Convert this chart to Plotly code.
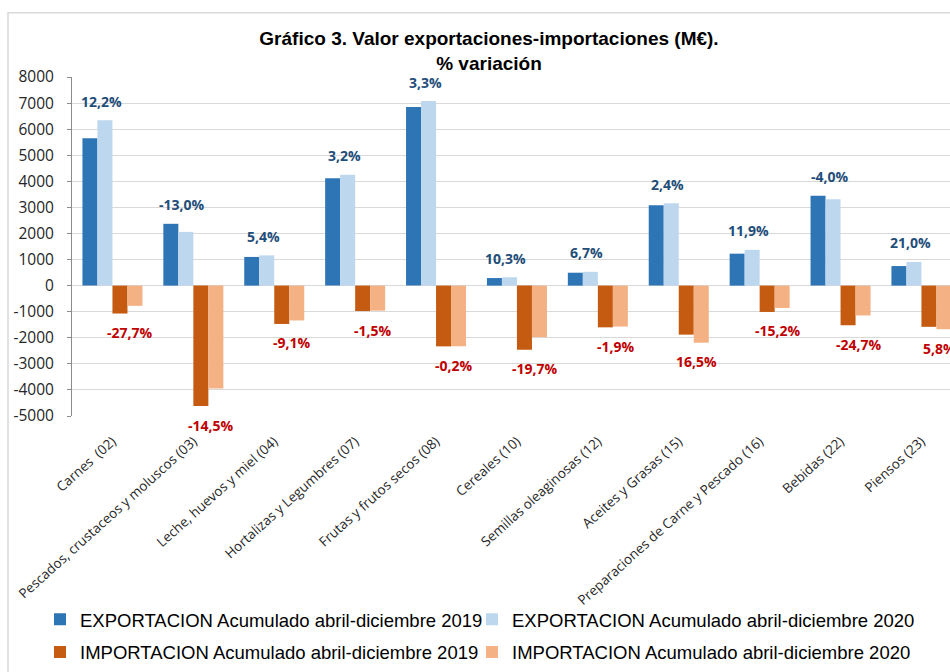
import plotly.graph_objects as go

categories = ["Carnes  (02)", "Pescados, crustaceos y moluscos (03)", "Leche, huevos y miel (04)",
              "Hortalizas y Legumbres (07)", "Frutas y frutos secos (08)", "Cereales (10)",
              "Semillas oleaginosas (12)", "Aceites y Grasas (15)",
              "Preparaciones de Carne y Pescado (16)", "Bebidas (22)", "Piensos (23)"]
export_2019 = [5650, 2370, 1100, 4120, 6850, 290, 495, 3080, 1225, 3450, 750]
export_2020 = [6340, 2060, 1160, 4250, 7075, 320, 528, 3154, 1371, 3312, 907]
import_2019 = [-1070, -4620, -1470, -975, -2330, -2460, -1600, -1880, -1010, -1520, -1580]
import_2020 = [-775, -3950, -1336, -960, -2325, -1975, -1570, -2190, -857, -1145, -1672]
export_pct = [12.2, -13.0, 5.4, 3.2, 3.3, 10.3, 6.7, 2.4, 11.9, -4.0, 21.0]
import_pct = [-27.7, -14.5, -9.1, -1.5, -0.2, -19.7, -1.9, 16.5, -15.2, -24.7, 5.8]
y_ticks = list(range(-5000, 8001, 1000))

names = ["EXPORTACION Acumulado abril-diciembre 2019", "EXPORTACION Acumulado abril-diciembre 2020",
         "IMPORTACION Acumulado abril-diciembre 2019", "IMPORTACION Acumulado abril-diciembre 2020"]
colors = ["#2E75B6", "#BDD7EE", "#C55A11", "#F4B183"]
series = [export_2019, export_2020, import_2019, import_2020]
legends = ["legend", "legend2", "legend3", "legend4"]

fig = go.Figure()
for n, c, s, lg in zip(names, colors, series, legends):
    fig.add_trace(go.Bar(x=categories, y=s, name=n, marker=dict(color=c, line=dict(width=0)),
                         legend=lg))

def fmt(v):
    return f"{v:.1f}".replace(".", ",") + "%"

ann = []
for i, cat in enumerate(categories):
    ann.append(dict(x=cat, y=max(export_2019[i], export_2020[i]), xref="x", yref="y",
                    text=fmt(export_pct[i]), showarrow=False, xshift=-11, yshift=19,
                    yanchor="middle",
                    font=dict(family="Open Sans", size=14, color="#1F4E79", weight="bold")))
    ann.append(dict(x=cat, y=min(import_2019[i], import_2020[i]), xref="x", yref="y",
                    text=fmt(import_pct[i]), showarrow=False, xshift=18, yshift=-19,
                    yanchor="middle",
                    font=dict(family="Open Sans", size=14, color="#C00000", weight="bold")))

W, H = 950, 672
L, R, T, B = 72, 0, 77, 252
pw, ph = W - L - R, H - T - B

def px_x(x):
    return (x - L) / pw

def px_y(y):
    return (H - B - y) / ph

legend_font = dict(family="Liberation Sans", size=18.5, color="#000000")

def leg(xp, yp):
    return dict(orientation="h", x=px_x(xp), xanchor="left", y=px_y(yp), yanchor="top",
                font=legend_font, itemwidth=30, bgcolor="rgba(0,0,0,0)")

fig.update_layout(
    width=W, height=H,
    margin=dict(l=L, r=R, t=T, b=B),
    paper_bgcolor="white", plot_bgcolor="white",
    barmode="group", bargap=0.258, bargroupgap=0,
    title=dict(text="<b>Gráfico 3. Valor exportaciones-importaciones (M€).<br>% variación</b>",
               x=489 / W, xanchor="center", y=1 - 45 / H, yanchor="top",
               font=dict(family="Liberation Sans", size=19, color="#000000")),
    font=dict(family="Open Sans", color="#262626"),
    xaxis=dict(type="category", range=[-0.5, -0.5 + pw / 80.9], tickangle=-42,
               tickfont=dict(family="Open Sans", size=13.5, color="#262626"),
               showgrid=False, showline=False, ticks="", ticklabelstandoff=14),
    yaxis=dict(range=[-5000, 8000], tickvals=y_ticks, ticktext=[str(v) for v in y_ticks],
               tickfont=dict(family="Open Sans", size=15.5, color="#262626"),
               showgrid=True, gridcolor="#d9d9d9", gridwidth=1.3,
               zeroline=True, zerolinecolor="#d9d9d9", zerolinewidth=1.3,
               showline=True, linecolor="#8c8c8c", linewidth=1,
               ticks="outside", ticklen=4, tickcolor="#8c8c8c", ticklabelstandoff=10),
    annotations=ann,
    legend=leg(40, 607),
    legend2=leg(472, 607),
    legend3=leg(40, 640),
    legend4=leg(472, 640),
    showlegend=True,
    shapes=[dict(type="rect", xref="paper", yref="paper", x0=px_x(8), x1=px_x(990),
                 y0=px_y(700), y1=px_y(12), line=dict(color="#d9d9d9", width=1.5),
                 fillcolor="rgba(0,0,0,0)", layer="below")],
)

fig.write_html("out.html")
